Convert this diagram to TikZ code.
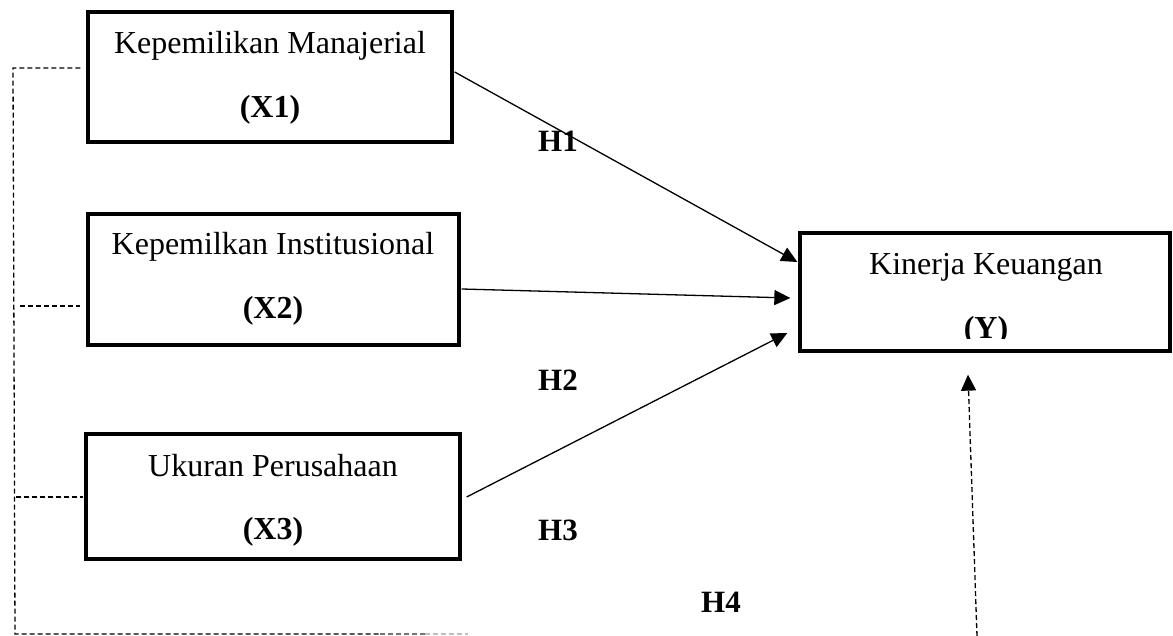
\documentclass[tikz,border=0pt]{standalone}
\usepackage{fontspec}
\setmainfont{Liberation Serif}
\usetikzlibrary{arrows.meta,calc}
\begin{document}
\begin{tikzpicture}[x=1pt,y=-1pt,
  box/.style={draw=black, line width=3.3pt, inner sep=0pt},
  lbl/.style={anchor=base, inner sep=0pt, font=\fontsize{32}{38}\selectfont},
  hyp/.style={anchor=base, inner sep=0pt, font=\fontsize{31}{37}\selectfont\bfseries},
  conn/.style={line width=1.3pt, -{Triangle[length=16pt,width=15pt]}},
  dashline/.style={line width=1.3pt, dash pattern=on 5pt off 3pt}]
\useasboundingbox (0,0) rectangle (1173,636);

% boxes
\node[box, minimum width=364pt, minimum height=130pt] (x1) at (270,77) {};
\node[box, minimum width=371pt, minimum height=131pt] (x2) at (273.5,279.5) {};
\node[box, minimum width=374pt, minimum height=125pt] (x3) at (273,496.5) {};
\node[box, minimum width=370pt, minimum height=118pt] (yb) at (985,292) {};

% box texts
\node[lbl] (x1a) at (270,54) {Kepemilikan Manajerial};
\node[lbl] (x1b) at (270,118) {\textbf{(X1)}};
\node[lbl] (x2a) at (273,255) {Kepemilkan Institusional};
\node[lbl] (x2b) at (273,319) {\textbf{(X2)}};
\node[lbl] (x3a) at (273,476) {Ukuran Perusahaan};
\node[lbl] (x3b) at (273,539) {\textbf{(X3)}};
\node[lbl] (ya) at (986,275) {Kinerja Keuangan};
\begin{scope}
  \clip (800,233) rectangle (1170,338.5);
  \node[lbl] (yb2) at (986,338) {\textbf{(Y)}};
\end{scope}

% hypothesis labels
\node[hyp] (h1) at (558,152) {H1};
\node[hyp] (h2) at (558,390) {H2};
\node[hyp] (h3) at (558,540) {H3};
\node[hyp] (h4) at (721,612) {H4};

% arrows
\draw[conn] ($(x1.east)+(1,-5)$) -- ($(yb.west)+(-1,-30)$);
\draw[conn] ($(x2.east)+(1,9.5)$) -- ($(yb.west)+(-8,6)$);
\draw[conn] ($(x3.east)+(5,0.5)$) -- ($(yb.west)+(-11,41)$);
\coordinate (h4s) at (977,636);
\draw[conn, dashline] (h4s) -- ($(yb.south)+(-17,22)$);

% dashed bracket
\coordinate (d1) at ($(x1.west)+(-6,-9)$);
\coordinate (d0) at (13,68);
\coordinate (dB) at (15,634);
\coordinate (dE) at (380,634);
\coordinate (dF) at (425,634);
\coordinate (dG) at (468,634);
\draw[dashline] (d1) -- (d0) -- (dB) -- (dE);
\draw[dashline, black!55] (dE) -- (dF);
\draw[dashline, black!25] (dF) -- (dG);
\coordinate (d2) at (20,306);
\draw[dashline] (d2) -- ($(x2.west)+(-6,26.5)$);
\coordinate (d3) at (16,497);
\draw[dashline] (d3) -- ($(x3.west)+(-1,0.5)$);
\end{tikzpicture}
\end{document}
